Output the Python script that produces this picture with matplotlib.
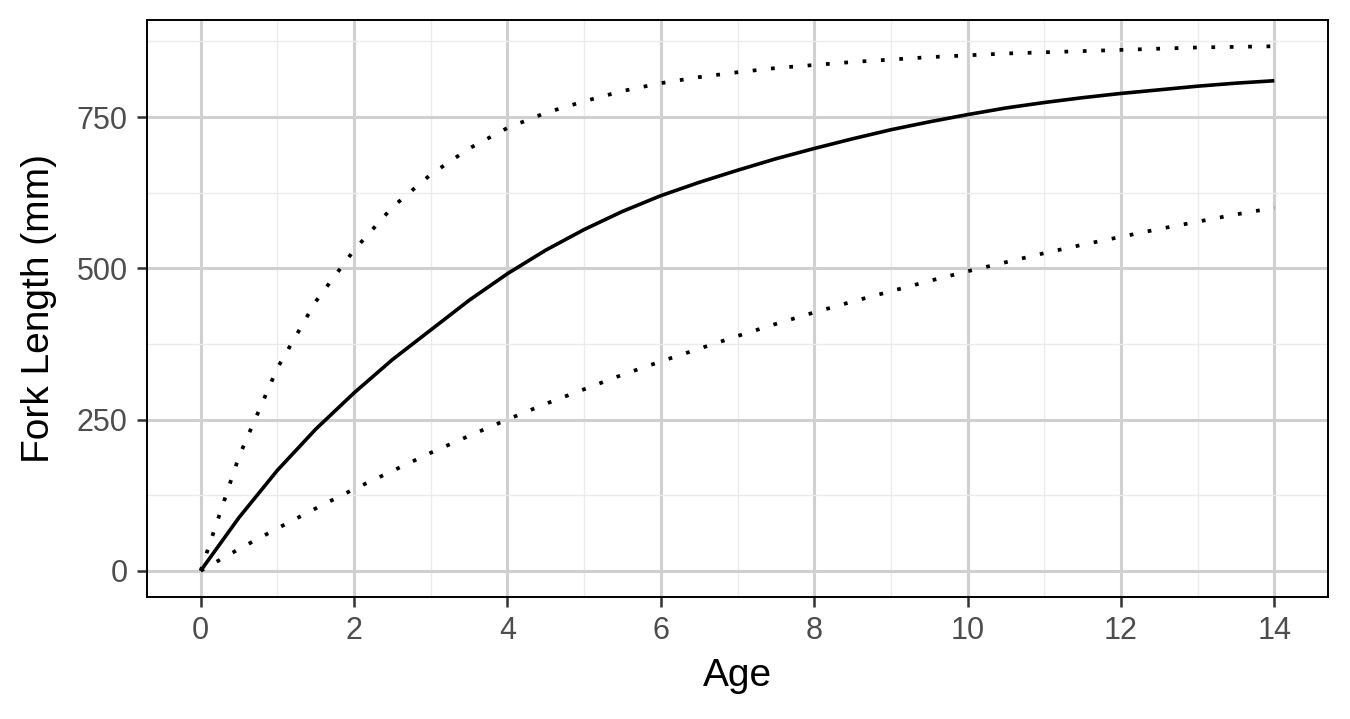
import numpy as np
import matplotlib
matplotlib.use("Agg")
from matplotlib import pyplot as plt

plt.rcParams['font.family'] = ['Liberation Sans', 'DejaVu Sans']

# Alter in halben Jahren
age = [0, 0.5, 1, 1.5, 2, 2.5, 3, 3.5, 4, 4.5, 5, 5.5, 6, 6.5, 7,
       7.5, 8, 8.5, 9, 9.5, 10, 10.5, 11, 11.5, 12, 12.5, 13, 13.5, 14]

# mittlere Wachstumskurve
fit = [0, 88, 166, 234, 294, 349, 398, 447, 491, 530, 564, 594, 620, 642, 662,
       681, 698, 714, 729, 742, 754, 765, 774, 782, 789, 795, 801, 806, 810]

# obere und untere Kurve (gepunktet)
upper = [0, 189, 335, 445, 530, 601, 655, 698, 732, 757, 776, 793, 806, 816, 824,
         831, 836, 841, 845, 849, 852, 855, 857, 859, 861, 863, 865, 866, 867]
lower = [0, 36, 70, 103, 135, 165, 195, 223, 250, 276, 300, 324, 346, 367, 388,
         408, 427, 445, 462, 479, 495, 510, 525, 539, 552, 565, 577, 589, 600]

xticks = [0, 2, 4, 6, 8, 10, 12, 14]
yticks = [0, 250, 500, 750]

fig = plt.figure(figsize=(13.5, 7.19), dpi=100)
ax = fig.add_axes([147/1350, 1-597/719, (1328-147)/1350, (597-20)/719])

ax.plot(age, fit, color="black", lw=2.6, solid_capstyle="butt", zorder=3)
ax.plot(age, upper, color="black", lw=2.7, dashes=(1, 3.9), dash_capstyle="butt", zorder=3)
ax.plot(age, lower, color="black", lw=2.7, dashes=(1, 3.9), dash_capstyle="butt", zorder=3)

ax.set_xlim(-0.7, 14.7)
ax.set_ylim(-43.4, 910.4)
ax.set_xticks(xticks)
ax.set_yticks(yticks)
ax.set_xticks([1, 3, 5, 7, 9, 11, 13], minor=True)
ax.set_yticks([125, 375, 625, 875], minor=True)

ax.grid(which="major", color="#d0d0d0", lw=2.2)
ax.grid(which="minor", color="#ebebeb", lw=1.0)
ax.set_axisbelow(True)

ax.tick_params(which="major", length=7, width=1.8, color="#333333",
               labelsize=22, labelcolor="#4d4d4d", pad=7)
ax.tick_params(which="minor", length=0)
for s in ax.spines.values():
    s.set_linewidth(1.4)
    s.set_color("black")

ax.set_xlabel("Age", fontsize=28, labelpad=8)
ax.set_ylabel("Fork Length (mm)", fontsize=28, labelpad=14)

fig.savefig("out.png", dpi=100)
